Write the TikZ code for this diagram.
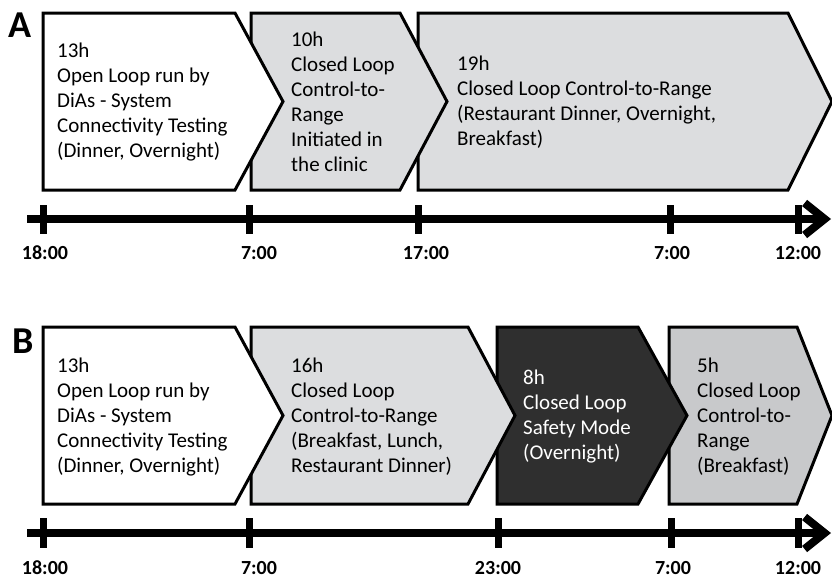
\documentclass[tikz,border=0pt]{standalone}
\usepackage{fontspec}
\setmainfont{Carlito}
\usetikzlibrary{arrows.meta}

\definecolor{lightgray}{HTML}{DCDDDF}
\definecolor{midgray}{HTML}{C8C9CB}
\definecolor{darkgray}{HTML}{2F2F2F}

\tikzset{
  phase/.style={draw=black, line width=3pt, line join=miter},
  phasetext/.style={anchor=west, align=left, inner sep=0pt, font=\fontsize{21}{25}\selectfont},
  timeaxis/.style={line width=8pt, -{Straight Barb[length=20pt, width=32pt]}},
  timetick/.style={line width=7pt},
  timelabel/.style={font=\fontsize{20}{24}\selectfont\bfseries},
  panellabel/.style={font=\fontsize{38}{40}\selectfont\bfseries, inner sep=0pt}
}

\begin{document}
\begin{tikzpicture}[x=1pt, y=-1pt]
  \useasboundingbox (0,0) rectangle (832,579);

  % panel A
  \node[panellabel] (labA) at (20,25) {A};
  \draw[phase, fill=lightgray] (418,13) -- (788,13) -- (832,101.5) -- (788,190) -- (418,190) -- cycle;
  \draw[phase, fill=lightgray] (251,13) -- (400,13) -- (447,101.5) -- (400,190) -- (251,190) -- cycle;
  \draw[phase, fill=white] (43,13) -- (235,13) -- (283,101.5) -- (235,190) -- (43,190) -- cycle;
  \node[phasetext] (a1) at (57,102) {13h\\Open Loop run by\\DiAs - System\\Connectivity Testing\\(Dinner, Overnight)};
  \node[phasetext] (a2) at (291,102) {10h\\Closed Loop\\Control-to-\\Range\\Initiated in\\the clinic};
  \node[phasetext] (a3) at (457,102) {19h\\Closed Loop Control-to-Range\\(Restaurant Dinner, Overnight,\\Breakfast)};

  \coordinate (axA0) at (27,219);
  \coordinate (axA1) at (831,219);
  \draw[timeaxis] (axA0) -- (axA1);
  \foreach \x/\lx/\t [count=\i] in {43/45/18:00, 249/259/7:00, 418/426/17:00, 670/672/7:00, 798/798/12:00} {
    \draw[timetick] (\x,205) -- (\x,234);
    \node[timelabel] (tA\i) at (\lx,253) {\t};
  }

  % panel B
  \node[panellabel] (labB) at (23,341) {B};
  \draw[phase, fill=midgray] (669,327) -- (797,327) -- (832,415.5) -- (797,504) -- (669,504) -- cycle;
  \draw[phase, fill=darkgray] (497,327) -- (638,327) -- (687,415.5) -- (638,504) -- (497,504) -- cycle;
  \draw[phase, fill=lightgray] (251,327) -- (468,327) -- (515,415.5) -- (468,504) -- (251,504) -- cycle;
  \draw[phase, fill=white] (43,327) -- (235,327) -- (283,415.5) -- (235,504) -- (43,504) -- cycle;
  \node[phasetext] (b1) at (57,417) {13h\\Open Loop run by\\DiAs - System\\Connectivity Testing\\(Dinner, Overnight)};
  \node[phasetext] (b2) at (291,417) {16h\\Closed Loop\\Control-to-Range\\(Breakfast, Lunch,\\Restaurant Dinner)};
  \node[phasetext, text=white] (b3) at (523,417) {8h\\Closed Loop\\Safety Mode\\(Overnight)};
  \node[phasetext] (b4) at (697,417) {5h\\Closed Loop\\Control-to-\\Range\\(Breakfast)};

  \coordinate (axB0) at (27,533);
  \coordinate (axB1) at (831,533);
  \draw[timeaxis] (axB0) -- (axB1);
  \foreach \x/\lx/\t [count=\i] in {43/45/18:00, 249/259/7:00, 498/498/23:00, 671/673/7:00, 798/798/12:00} {
    \draw[timetick] (\x,518) -- (\x,548);
    \node[timelabel] (tB\i) at (\lx,568) {\t};
  }
\end{tikzpicture}
\end{document}
